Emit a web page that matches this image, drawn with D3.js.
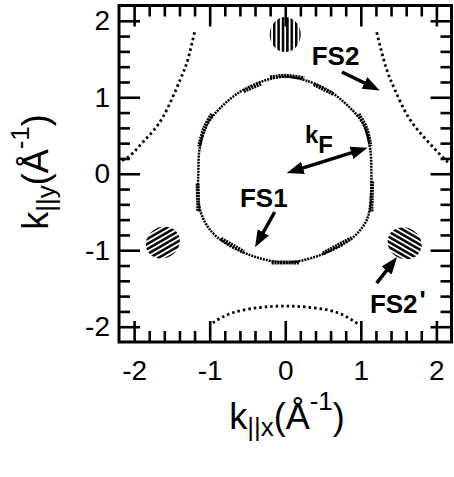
<!DOCTYPE html>
<html lang="pt-br">
<head>
  <meta charset="UTF-8">
  <title>Superficie de Fermi</title>
  <script src="https://d3js.org/d3.v7.min.js"></script>
  <style type="text/css">
    body { margin: 0; background: #fff; }
    text { font-family: "Liberation Sans", Arial, sans-serif; fill: #000; }
  </style>
</head>
<body>
<svg id="grafico"></svg>

<script>
  // Dados (em Å^-1)
  const ticksPrincipais = [-2, -1, 0, 1, 2];

  // Contorno FS1 (fechado)
  const fs1Contorno = [
    [0, 1.27], [0.3, 1.21], [0.6, 1.07], [0.85, 0.87], [1.03, 0.65], [1.12, 0.35],
    [1.14, 0], [1.13, -0.35], [1.08, -0.6], [0.9, -0.83], [0.5, -1.05], [0, -1.16],
    [-0.5, -1.05], [-0.9, -0.83], [-1.08, -0.6], [-1.15, -0.35], [-1.15, 0],
    [-1.13, 0.35], [-1.03, 0.65], [-0.85, 0.87], [-0.6, 1.07], [-0.3, 1.21]
  ];

  // Trechos do FS1 onde os pontos aparecem em fileira dupla
  const fs1Espessos = [
    [[-0.2, 1.26], [0, 1.28], [0.25, 1.25]],
    [[-0.55, 1.08], [-0.32, 1.18]],
    [[0.38, 1.17], [0.64, 1.04]],
    [[0.97, 0.78], [1.07, 0.6], [1.13, 0.36]],
    [[-0.97, 0.78], [-1.07, 0.6], [-1.14, 0.36]],
    [[-1.16, -0.13], [-1.15, -0.5]],
    [[1.15, -0.1], [1.14, -0.5]],
    [[-0.85, -0.85], [-0.55, -1.02]],
    [[0.5, -1.04], [0.88, -0.84]],
    [[-0.18, -1.16], [0.18, -1.16]]
  ];

  // Arcos de FS2
  const fs2SupEsq = [[-1.2, 1.85], [-1.29, 1.49], [-1.39, 1.23], [-1.62, 0.74], [-1.85, 0.45], [-2.05, 0.24], [-2.2, 0.16]];
  const fs2SupDir = [[1.21, 1.85], [1.33, 1.4], [1.45, 1.1], [1.63, 0.74], [1.88, 0.43], [2.12, 0.18], [2.2, 0.13]];
  const fs2Inf = [[-0.96, -1.95], [-0.7, -1.82], [-0.35, -1.75], [0, -1.73], [0.35, -1.75], [0.7, -1.82], [0.97, -1.97]];

  // Bolsos FS2' hachurados: centro e direcao das listras (graus)
  const bolhaCentros = [[0, 1.82], [-1.62, -0.9], [1.58, -0.91]];
  const bolhaAngulos = [90, -30, 30];

  // Anotacoes: texto, posicao, setas
  const rotulos = [
    { txt: "FS2", pos: [0.35, 1.42] },
    { txt: "FS1", pos: [-0.6, -0.43] },
    { txt: "FS2", pos: [1.12, -1.82], linha: true }
  ];
  const setas = [
    { de: [0.75, 1.33], para: [1.25, 1.09], duplo: false },
    { de: [0.02, 0.01], para: [1.09, 0.34], duplo: true },
    { de: [-0.14, -0.5], para: [-0.4, -0.96], duplo: false },
    { de: [1.21, -1.43], para: [1.48, -1.09], duplo: false }
  ];

  const largura = 454;
  const altura = 477;
  const area = { esquerda: 119, direita: 451.5, topo: 5.5, inferior: 342 };

  const svg = d3.select("#grafico")
      .attr("width", largura)
      .attr("height", altura);

  const escalaX = d3.scaleLinear().domain([-2.2, 2.2]).range([area.esquerda, area.direita]);
  const escalaY = d3.scaleLinear().domain([-2.2, 2.2]).range([area.inferior, area.topo]);

  const defs = svg.append("defs");

  // Hachura em listras para os bolsos
  const padrao = defs.append("pattern")
      .attr("id", "hachura")
      .attr("patternUnits", "userSpaceOnUse")
      .attr("width", 4)
      .attr("height", 4.4);
  padrao.append("rect").attr("x", 0).attr("y", 1).attr("width", 4).attr("height", 2.5).attr("fill", "#000");

  defs.append("marker")
      .attr("id", "seta")
      .attr("viewBox", "0 0 10 10")
      .attr("refX", 5.3).attr("refY", 5)
      .attr("markerWidth", 17).attr("markerHeight", 13)
      .attr("markerUnits", "userSpaceOnUse")
      .attr("preserveAspectRatio", "none")
      .attr("orient", "auto-start-reverse")
    .append("path").attr("d", "M0,0L10,5L0,10z").attr("fill", "#000");

  const linha = d3.line().x(d => escalaX(d[0])).y(d => escalaY(d[1]));

  // FS1
  svg.append("path")
      .attr("d", linha.curve(d3.curveCatmullRomClosed)(fs1Contorno))
      .attr("fill", "none")
      .attr("stroke", "#000")
      .attr("stroke-width", 2.5)
      .attr("stroke-dasharray", "2,1");

  svg.selectAll(".espesso")
      .data(fs1Espessos)
      .enter().append("path")
      .attr("class", "espesso")
      .attr("d", d => linha.curve(d3.curveCatmullRom)(d))
      .attr("fill", "none")
      .attr("stroke", "#000")
      .attr("stroke-width", 4)
      .attr("stroke-dasharray", "2,0.8");

  // FS2 (arcos pontilhados)
  svg.selectAll(".fs2")
      .data([fs2SupEsq, fs2SupDir, fs2Inf])
      .enter().append("path")
      .attr("class", "fs2")
      .attr("d", d => linha.curve(d3.curveNatural)(d))
      .attr("fill", "none")
      .attr("stroke", "#000")
      .attr("stroke-width", 2.8)
      .attr("stroke-dasharray", "2.5,3");

  // Bolsos FS2'
  svg.selectAll(".bolha")
      .data(bolhaCentros)
      .enter().append("ellipse")
      .attr("class", "bolha")
      .attr("transform", (d, i) => `translate(${escalaX(d[0])},${escalaY(d[1])}) rotate(${bolhaAngulos[i]})`)
      .attr("rx", 17.5)
      .attr("ry", 15.5)
      .attr("fill", "url(#hachura)");

  // Moldura
  svg.append("rect")
      .attr("x", area.esquerda).attr("y", area.topo)
      .attr("width", area.direita - area.esquerda)
      .attr("height", area.inferior - area.topo)
      .attr("fill", "none")
      .attr("stroke", "#000")
      .attr("stroke-width", 3);

  // Ticks menores (0.2) nos quatro lados
  const ticksMenores = escalaX.ticks(22).filter(t => Math.abs(t) < 2.19 && !ticksPrincipais.some(p => Math.abs(p - t) < 1e-6));

  function eixo(gerador, escala, valores, tamanho, transf, comRotulo, padding) {
    const g = svg.append("g")
        .attr("transform", transf)
        .call(gerador(escala)
          .tickValues(valores)
          .tickSizeInner(-tamanho)
          .tickSizeOuter(0)
          .tickPadding(padding || 0)
          .tickFormat(comRotulo ? (d => String(d)) : ""));
    g.select(".domain").remove();
    g.selectAll("line").attr("stroke", "#000").attr("stroke-width", 2.6);
    g.selectAll("text").attr("font-size", 28).attr("font-family", "'Liberation Sans', Arial, sans-serif");
    return g;
  }

  eixo(d3.axisBottom, escalaX, ticksPrincipais, 21, `translate(0,${area.inferior})`, true, 18);
  eixo(d3.axisTop, escalaX, ticksPrincipais, 21, `translate(0,${area.topo})`, false);
  eixo(d3.axisLeft, escalaY, ticksPrincipais, 21, `translate(${area.esquerda},0)`, true, 9);
  eixo(d3.axisRight, escalaY, ticksPrincipais, 21, `translate(${area.direita},0)`, false);

  eixo(d3.axisBottom, escalaX, ticksMenores, 11, `translate(0,${area.inferior})`, false);
  eixo(d3.axisTop, escalaX, ticksMenores, 11, `translate(0,${area.topo})`, false);
  eixo(d3.axisLeft, escalaY, ticksMenores, 11, `translate(${area.esquerda},0)`, false);
  eixo(d3.axisRight, escalaY, ticksMenores, 11, `translate(${area.direita},0)`, false);

  // Setas
  setas.forEach(function(s) {
    const x0 = escalaX(s.de[0]), y0 = escalaY(s.de[1]);
    const x1 = escalaX(s.para[0]), y1 = escalaY(s.para[1]);
    const L = Math.hypot(x1 - x0, y1 - y0);
    const ux = (x1 - x0) / L, uy = (y1 - y0) / L;
    const recuo = 8;
    const ln = svg.append("line")
        .attr("x1", s.duplo ? x0 + ux * recuo : x0)
        .attr("y1", s.duplo ? y0 + uy * recuo : y0)
        .attr("x2", x1 - ux * recuo)
        .attr("y2", y1 - uy * recuo)
        .attr("stroke", "#000")
        .attr("stroke-width", 3.5)
        .attr("marker-end", "url(#seta)");
    if (s.duplo) ln.attr("marker-start", "url(#seta)");
  });

  // Rotulos das superficies
  rotulos.forEach(function(r) {
    const t = svg.append("text")
        .attr("x", escalaX(r.pos[0]))
        .attr("y", escalaY(r.pos[1]))
        .attr("font-size", 26)
        .attr("font-weight", "bold")
        .text(r.txt);
    if (r.linha) {
      t.append("tspan").attr("dx", 2).attr("dy", -4).attr("font-size", 26).text("'");
    }
  });

  // k_F
  const kf = svg.append("text")
      .attr("x", escalaX(0.26))
      .attr("y", escalaY(0.4))
      .attr("font-size", 24)
      .attr("font-weight", "bold")
      .text("k");
  kf.append("tspan").attr("dy", 10).text("F");

  // Titulos dos eixos
  function tituloEixo(g, sub) {
    const t = g.append("text")
        .attr("text-anchor", "middle")
        .attr("font-size", 36)
        .text("k");
    t.append("tspan").attr("font-size", 26).attr("dy", 7).text(sub);
    t.append("tspan").attr("dy", -7).text("(Å");
    t.append("tspan").attr("font-size", 26).attr("dy", -19).text("-1");
    t.append("tspan").attr("dy", 19).text(")");
  }

  tituloEixo(svg.append("g").attr("transform", "translate(287,429)"), "||x");
  tituloEixo(svg.append("g").attr("transform", "translate(48,172) rotate(-90)"), "||y");
</script>
</body>
</html>
